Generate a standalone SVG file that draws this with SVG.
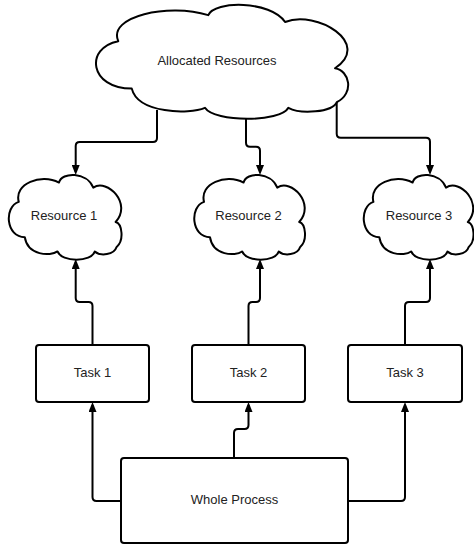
<svg xmlns="http://www.w3.org/2000/svg" xmlns:xlink="http://www.w3.org/1999/xlink" width="474" height="544" viewBox="0 0 474 544">
<style>
.cloud{fill:#fff;stroke:#000;stroke-width:2;vector-effect:non-scaling-stroke;stroke-linejoin:round}
.box{fill:#fff;stroke:#000;stroke-width:2}
.conn{fill:none;stroke:#000;stroke-width:2;marker-end:url(#arrow)}
text{font-family:"Liberation Sans",Arial,sans-serif;font-size:13px;fill:#222;text-anchor:middle;dominant-baseline:central}
</style>
<defs>
<marker id="arrow" markerUnits="userSpaceOnUse" markerWidth="10" markerHeight="8" refX="7" refY="4" orient="auto">
<path d="M0,0 L10,4 L0,8 Z" fill="#000"/>
</marker>
<path id="cloudShape" class="cloud" d="M45.6 9 C48 -4 70 -4 75.7 15 C88 4 110 34 95.3 56 C101 58 103 78 96 86 C94 95 82 97 77 91 C74 104 48 104 44.3 91 C38 97 18 96 15.6 74 C-1 74 -3 38 10.3 32 C6 10 30 -2 45.6 9 Z"/>
</defs>
<g id="connectors">
<path class="conn" d="M157 110 V138 Q157 142 153 142 H79.7 Q75.7 142 75.7 146 V172"/>
<path class="conn" d="M246 118 V142.7 Q246 146.7 250 146.7 H256 Q260 146.7 260 150.7 V172"/>
<path class="conn" d="M336.7 100 V133.7 Q336.7 137.7 340.7 137.7 H426 Q430 137.7 430 141.7 V172"/>
<path class="conn" d="M92.5 345 V306 Q92.5 302 88.5 302 H79.7 Q75.7 302 75.7 298 V262"/>
<path class="conn" d="M248.5 345 V306 Q248.5 302 252.5 302 H256 Q260 302 260 298 V262"/>
<path class="conn" d="M405 345 V306 Q405 302 409 302 H426 Q430 302 430 298 V262"/>
<path class="conn" d="M121 501 H96.5 Q92.5 501 92.5 497 V405"/>
<path class="conn" d="M234 458 V433 Q234 429 238 429 H244.5 Q248.5 429 248.5 425 V405"/>
<path class="conn" d="M348 501 H401 Q405 501 405 497 V405"/>
</g>
<g id="allocated">
<use xlink:href="#cloudShape" transform="translate(92 5) scale(2.55 1.13)"/>
<text x="217" y="60">Allocated Resources</text>
</g>
<g id="resource1">
<use xlink:href="#cloudShape" transform="translate(7 175) scale(1.14 0.84)"/>
<text x="64" y="215">Resource 1</text>
</g>
<g id="resource2">
<use xlink:href="#cloudShape" transform="translate(192.5 175) scale(1.12 0.84)"/>
<text x="248.5" y="215">Resource 2</text>
</g>
<g id="resource3">
<use xlink:href="#cloudShape" transform="translate(362 175) scale(1.11 0.84)"/>
<text x="419" y="215">Resource 3</text>
</g>
<g id="task1">
<rect class="box" x="36" y="345" width="113" height="57" rx="3"/>
<text x="92.5" y="372.5">Task 1</text>
</g>
<g id="task2">
<rect class="box" x="192" y="345" width="113" height="57" rx="3"/>
<text x="248.5" y="372.5">Task 2</text>
</g>
<g id="task3">
<rect class="box" x="348" y="345" width="114" height="57" rx="3"/>
<text x="405" y="372.5">Task 3</text>
</g>
<g id="whole">
<rect class="box" x="121" y="458" width="227" height="85" rx="3"/>
<text x="234.5" y="499">Whole Process</text>
</g>
</svg>
